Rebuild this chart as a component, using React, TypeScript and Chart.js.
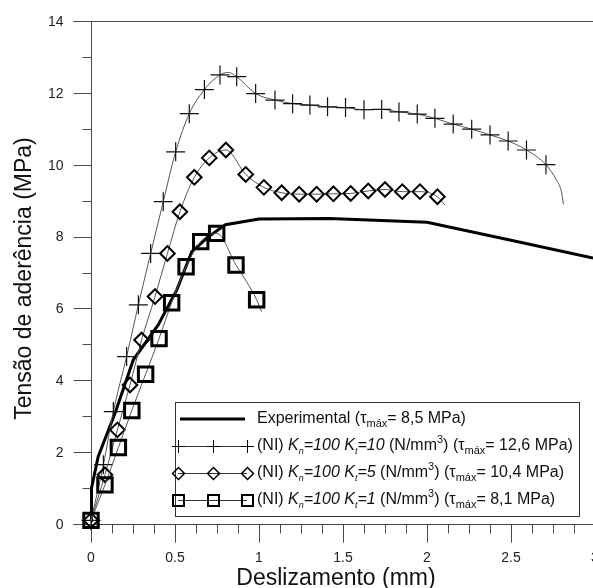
import React, { useEffect, useRef } from 'react';
import { Chart, registerables } from 'chart.js';

Chart.register(...registerables);

const FONT = "'Liberation Sans', Arial, Helvetica, sans-serif";

// ---- Data (mm, MPa) ----
const expX = [0, 0.003, 0.043, 0.143, 0.252, 0.40, 0.51, 0.60, 0.70, 0.80, 1.0, 1.42, 2.0, 2.5, 2.988];
const expY = [0.1, 1.0, 1.88, 3.08, 4.57, 5.54, 6.51, 7.58, 8.0, 8.33, 8.49, 8.5, 8.4, 7.9, 7.4];

const kt10X = [0, 0.074, 0.133, 0.212, 0.282, 0.355, 0.43, 0.504, 0.585, 0.675, 0.768, 0.817, 0.867, 0.98, 1.095, 1.2, 1.303, 1.408, 1.515, 1.625, 1.73, 1.833, 1.942, 2.047, 2.156, 2.266, 2.375, 2.483, 2.592, 2.708, 2.771, 2.8, 2.812];
const kt10Y = [0.1, 1.65, 3.13, 4.66, 6.1, 7.53, 8.97, 10.36, 11.42, 12.09, 12.5, 12.57, 12.45, 11.98, 11.8, 11.7, 11.66, 11.61, 11.59, 11.53, 11.54, 11.47, 11.41, 11.29, 11.13, 10.99, 10.83, 10.66, 10.41, 10.0, 9.57, 9.25, 8.9];
const kt10Marked = [1, 1, 1, 1, 1, 1, 1, 1, 1, 1, 1, 0, 1, 1, 1, 1, 1, 1, 1, 1, 1, 1, 1, 1, 1, 1, 1, 1, 1, 1, 0, 0, 0];

const kt5X = [0, 0.083, 0.157, 0.232, 0.301, 0.381, 0.455, 0.529, 0.615, 0.704, 0.803, 0.921, 1.029, 1.135, 1.239, 1.343, 1.443, 1.546, 1.65, 1.75, 1.853, 1.958, 2.062, 2.106];
const kt5Y = [0.1, 1.37, 2.62, 3.87, 5.12, 6.33, 7.53, 8.69, 9.65, 10.19, 10.41, 9.73, 9.37, 9.22, 9.18, 9.18, 9.19, 9.2, 9.27, 9.31, 9.25, 9.25, 9.11, 8.88];
const kt5Marked = [1, 1, 1, 1, 1, 1, 1, 1, 1, 1, 1, 1, 1, 1, 1, 1, 1, 1, 1, 1, 1, 1, 1, 0];

const kt1X = [0, 0.083, 0.163, 0.243, 0.325, 0.405, 0.48, 0.566, 0.653, 0.748, 0.863, 0.986, 1.015];
const kt1Y = [0.1, 1.09, 2.13, 3.16, 4.17, 5.16, 6.16, 7.16, 7.86, 8.09, 7.21, 6.24, 5.91];
const kt1Marked = [1, 1, 1, 1, 1, 1, 1, 1, 1, 1, 1, 1, 0];

const xMajorTicks = [0, 0.5, 1, 1.5, 2, 2.5, 3];
const xTickLabels = ['0', '0.5', '1', '1.5', '2', '2.5', '3'];
const xMinorStep = 0.125;
const yMajorTicks = [0, 2, 4, 6, 8, 10, 12, 14];
const yTickLabels = ['0', '2', '4', '6', '8', '10', '12', '14'];
const yMinorStep = 1;
const X_MAX = 2.988;
const Y_MAX = 14;

const xTitle = 'Deslizamento (mm)';
const yTitle = 'Tensão de aderência (MPa)';

type Seg = { t: string; italic?: boolean; sub?: boolean; sup?: boolean; small?: boolean };
const legendRows: { seg: Seg[]; kind: string }[] = [
  {
    kind: 'exp',
    seg: [{ t: 'Experimental (' }, { t: 'τ' }, { t: 'máx', sub: true }, { t: '= 8,5 MPa)' }],
  },
  {
    kind: 'cross',
    seg: [
      { t: '(NI) ' }, { t: 'K', italic: true }, { t: 'n', sub: true, small: true, italic: true }, { t: '=100 ', italic: true },
      { t: 'K', italic: true }, { t: 't', sub: true, small: true, italic: true }, { t: '=10', italic: true },
      { t: ' (N/mm' }, { t: '3', sup: true }, { t: ') (' }, { t: 'τ' }, { t: 'máx', sub: true }, { t: '= 12,6 MPa)' },
    ],
  },
  {
    kind: 'diamond',
    seg: [
      { t: '(NI) ' }, { t: 'K', italic: true }, { t: 'n', sub: true, small: true, italic: true }, { t: '=100 ', italic: true },
      { t: 'K', italic: true }, { t: 't', sub: true, small: true, italic: true }, { t: '=5', italic: true },
      { t: ' (N/mm' }, { t: '3', sup: true }, { t: ') (' }, { t: 'τ' }, { t: 'máx', sub: true }, { t: '= 10,4 MPa)' },
    ],
  },
  {
    kind: 'square',
    seg: [
      { t: '(NI) ' }, { t: 'K', italic: true }, { t: 'n', sub: true, small: true, italic: true }, { t: '=100 ', italic: true },
      { t: 'K', italic: true }, { t: 't', sub: true, small: true, italic: true }, { t: '=1', italic: true },
      { t: ' (N/mm' }, { t: '3', sup: true }, { t: ') (' }, { t: 'τ' }, { t: 'máx', sub: true }, { t: '= 8,1 MPa)' },
    ],
  },
];

function pts(xs: number[], ys: number[]) {
  return xs.map((x, i) => ({ x, y: ys[i] }));
}

function line(ctx: CanvasRenderingContext2D, x1: number, y1: number, x2: number, y2: number) {
  ctx.beginPath();
  ctx.moveTo(x1, y1);
  ctx.lineTo(x2, y2);
  ctx.stroke();
}

const axesPlugin = {
  id: 'customAxes',
  beforeDatasetsDraw(chart: any) {
    const { ctx, chartArea } = chart;
    const xs = chart.scales.x;
    const ys = chart.scales.y;
    const x0 = Math.round(xs.getPixelForValue(0)) + 0.5;
    const y0 = Math.round(ys.getPixelForValue(0)) + 0.5;
    const yTop = Math.round(ys.getPixelForValue(Y_MAX)) + 0.5;
    const right = chartArea.right;
    ctx.save();
    ctx.strokeStyle = '#4a4a4a';
    ctx.lineWidth = 1;
    line(ctx, x0, yTop, x0, y0);
    line(ctx, x0 - 18, yTop, right + 2, yTop);
    line(ctx, x0 - 18, y0, right + 2, y0);
    for (let v = 0; v <= Y_MAX + 1e-9; v += yMinorStep) {
      const py = Math.round(ys.getPixelForValue(v)) + 0.5;
      const major = yMajorTicks.includes(v);
      line(ctx, x0 - (major ? 18 : 9), py, x0, py);
    }
    for (let v = 0; v <= 3 + 1e-9; v += xMinorStep) {
      const px = Math.round(xs.getPixelForValue(v)) + 0.5;
      if (px > right + 1) continue;
      const major = xMajorTicks.some((m) => Math.abs(m - v) < 1e-9);
      line(ctx, px, y0, px, y0 + (major ? 18 : 9));
    }
    ctx.fillStyle = '#222';
    ctx.font = `14px ${FONT}`;
    ctx.textAlign = 'right';
    ctx.textBaseline = 'middle';
    yMajorTicks.forEach((v, i) => {
      ctx.fillText(yTickLabels[i], x0 - 28, ys.getPixelForValue(v) + 1);
    });
    ctx.textAlign = 'center';
    xMajorTicks.forEach((v, i) => {
      ctx.fillText(xTickLabels[i], xs.getPixelForValue(v), y0 + 34);
    });
    ctx.fillStyle = '#111';
    ctx.font = `23px ${FONT}`;
    ctx.textAlign = 'center';
    ctx.textBaseline = 'middle';
    ctx.fillText(xTitle, (chartArea.left + chartArea.right) / 2 - 6, y0 + 54);
    ctx.save();
    ctx.translate(25, (chartArea.top + chartArea.bottom) / 2 + 6);
    ctx.rotate(-Math.PI / 2);
    ctx.fillText(yTitle, 0, 0);
    ctx.restore();
    ctx.restore();
  },
};

function drawMarker(ctx: CanvasRenderingContext2D, kind: string, x: number, y: number) {
  ctx.beginPath();
  if (kind === 'cross') {
    ctx.lineWidth = 1;
    ctx.moveTo(x - 6.5, y);
    ctx.lineTo(x + 6.5, y);
    ctx.moveTo(x, y - 6.5);
    ctx.lineTo(x, y + 6.5);
  } else if (kind === 'diamond') {
    ctx.lineWidth = 1.5;
    ctx.moveTo(x - 6, y);
    ctx.lineTo(x, y - 6);
    ctx.lineTo(x + 6, y);
    ctx.lineTo(x, y + 6);
    ctx.closePath();
  } else if (kind === 'square') {
    ctx.lineWidth = 2;
    ctx.rect(x - 5.5, y - 5.5, 11, 11);
  }
  ctx.stroke();
}

const legendPlugin = {
  id: 'customLegend',
  afterDraw(chart: any) {
    const { ctx } = chart;
    const bx = 175.5, by = 402.5, bw = 404, bh = 114;
    ctx.save();
    ctx.fillStyle = '#fff';
    ctx.fillRect(bx, by, bw, bh);
    ctx.strokeStyle = '#333';
    ctx.lineWidth = 1;
    ctx.strokeRect(bx, by, bw, bh);
    const rowY = [419, 446, 473, 500];
    const sx1 = 178, sx2 = 247;
    legendRows.forEach((row, i) => {
      const y = rowY[i];
      ctx.strokeStyle = '#000';
      if (row.kind === 'exp') {
        ctx.lineWidth = 3;
        line(ctx, sx1 + 2, y, sx2 - 2, y);
      } else {
        ctx.lineWidth = 1;
        ctx.strokeStyle = '#333';
        line(ctx, sx1, y + 0.5, sx2, y + 0.5);
        ctx.strokeStyle = '#000';
        [sx1, (sx1 + sx2) / 2, sx2].forEach((mx) => drawMarker(ctx, row.kind, Math.round(mx) + 0.5, y + 0.5));
      }
      let cx = 257;
      ctx.fillStyle = '#111';
      ctx.textAlign = 'left';
      ctx.textBaseline = 'middle';
      row.seg.forEach((s) => {
        const size = s.small ? 9 : s.sub || s.sup ? 11 : 16;
        ctx.font = `${s.italic ? 'italic ' : ''}${size}px ${FONT}`;
        const dy = s.sub ? 5 : s.sup ? -6 : 0;
        ctx.fillText(s.t, cx, y + dy);
        cx += ctx.measureText(s.t).width;
      });
    });
    ctx.restore();
  },
};

export default function App() {
  const ref = useRef<HTMLCanvasElement | null>(null);
  useEffect(() => {
    document.body.style.margin = '0';
    if (!ref.current) return;
    const chart = new Chart(ref.current, {
      type: 'line',
      data: {
        datasets: [
          {
            label: 'Kt=1',
            data: pts(kt1X, kt1Y),
            borderColor: '#555',
            borderWidth: 1,
            cubicInterpolationMode: 'monotone',
            pointStyle: 'rect',
            pointRadius: (c: any) => (kt1Marked[c.dataIndex] ? 10.2 : 0),
            pointBorderColor: '#000',
            pointBorderWidth: 3,
            pointBackgroundColor: 'rgba(0,0,0,0)',
            clip: false,
          } as any,
          {
            label: 'Kt=5',
            data: pts(kt5X, kt5Y),
            borderColor: '#555',
            borderWidth: 1,
            cubicInterpolationMode: 'monotone',
            pointStyle: 'rectRot',
            pointRadius: (c: any) => (kt5Marked[c.dataIndex] ? 7.3 : 0),
            pointBorderColor: '#000',
            pointBorderWidth: 2,
            pointBackgroundColor: 'rgba(0,0,0,0)',
            clip: false,
          } as any,
          {
            label: 'Kt=10',
            data: pts(kt10X, kt10Y),
            borderColor: '#555',
            borderWidth: 1,
            cubicInterpolationMode: 'monotone',
            pointStyle: 'cross',
            pointRadius: (c: any) => (kt10Marked[c.dataIndex] ? 9.5 : 0),
            pointBorderColor: '#111',
            pointBorderWidth: 1.2,
            pointBackgroundColor: 'rgba(0,0,0,0)',
            clip: false,
          } as any,
          {
            label: 'Experimental',
            data: pts(expX, expY),
            borderColor: '#000',
            borderWidth: 3,
            pointRadius: 0,
            tension: 0,
            clip: false,
          } as any,
        ],
      },
      options: {
        animation: false,
        responsive: false,
        devicePixelRatio: 1,
        events: [],
        layout: { autoPadding: false, padding: { left: 91, top: 21, right: 0, bottom: 64 } },
        plugins: { legend: { display: false }, tooltip: { enabled: false } },
        scales: {
          x: { type: 'linear', min: 0, max: X_MAX, display: false },
          y: { type: 'linear', min: 0, max: Y_MAX, display: false },
        },
      } as any,
      plugins: [axesPlugin, legendPlugin],
    });
    return () => chart.destroy();
  }, []);
  return (
    <div style={{ width: 593, height: 588, background: '#fff' }}>
      <canvas ref={ref} width={593} height={588} style={{ display: 'block' }} />
    </div>
  );
}
